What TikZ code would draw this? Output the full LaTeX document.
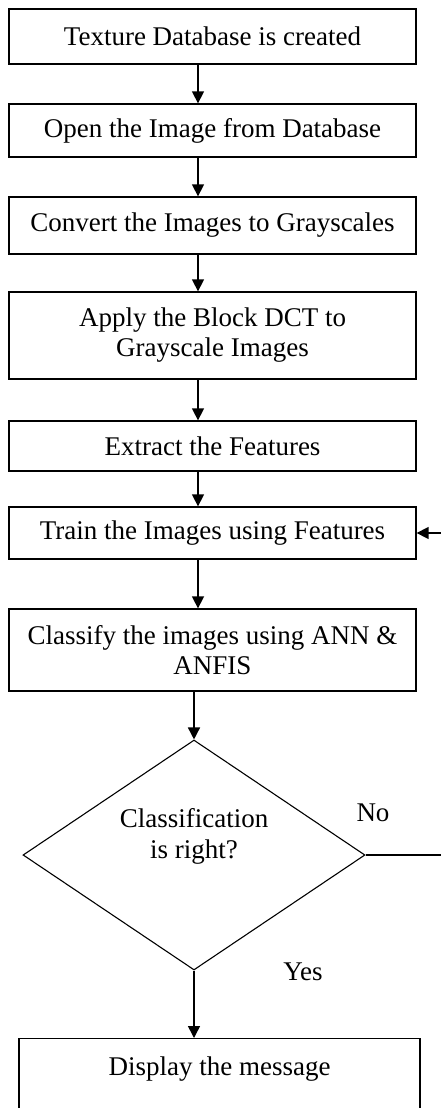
\documentclass[tikz,border=0pt]{standalone}
\usepackage{fontspec}
\setmainfont{Liberation Serif}
\usetikzlibrary{arrows.meta,shapes.geometric}

\begin{document}
\begin{tikzpicture}[x=1pt,y=-1pt,
        stepbox/.style={draw, line width=1.3pt, minimum width=407pt, inner sep=0pt,
            align=center, font=\fontsize{27}{30}\selectfont},
        decision/.style={draw, diamond, line width=1.1pt, minimum width=342pt,
            minimum height=230pt, inner sep=0pt},
        flow/.style={line width=1.5pt, -{Triangle[length=12pt,width=12pt]}},
        tag/.style={font=\fontsize{27}{31}\selectfont, inner sep=0pt}]
    \useasboundingbox (0,0) rectangle (441,1108);
    \clip (0,0) rectangle (441,1108);

    % boxes of the flow
    \node[stepbox, minimum height=55pt] (texdb) at (212.5,36.5) {Texture Database is created};
    \node[stepbox, minimum height=53pt] (openimg) at (212.5,130.5) {Open the Image from Database};
    \node[stepbox, minimum height=57pt] (gray) at (212.5,225.5) {Convert the Images to Grayscales};
    \node[stepbox, minimum height=87pt] (dct) at (212.5,335.5) {Apply the Block DCT to\\Grayscale Images};
    \node[stepbox, minimum height=50pt] (feat) at (212.5,446) {Extract the Features};
    \node[stepbox, minimum height=52pt] (train) at (212.5,533) {Train the Images using Features};
    \node[stepbox, minimum height=82pt] (classify) at (212.5,650) {Classify the images using ANN \&\\ANFIS};
    \node[decision] (check) at (194,855) {};
    \node[tag, align=center] (checktxt) at (194,836) {Classification\\is right?};
    \node[stepbox, anchor=north, minimum width=401pt, text height=37pt, text depth=45pt] (msg) at (219.5,1038) {Display the message};

    \node[tag] (no) at (373,813) {No};
    \node[tag] (yes) at (303,972) {Yes};

    % arrows
    \coordinate (ax) at (198,0);
    \coordinate (back) at (442,0);
    \draw[flow] (texdb.south -| ax) -- (openimg.north -| ax);
    \draw[flow] (openimg.south -| ax) -- (gray.north -| ax);
    \draw[flow] (gray.south -| ax) -- (dct.north -| ax);
    \draw[flow] (dct.south -| ax) -- (feat.north -| ax);
    \draw[flow] (feat.south -| ax) -- (train.north -| ax);
    \draw[flow] (train.south -| ax) -- (classify.north -| ax);
    \draw[flow] (classify.south -| check.north) -- (check.north);
    \draw[flow] (check.south) -- (msg.north -| check.south);
    \draw[flow] (check.east) -- (check.east -| back) -- (train.east -| back) -- (train.east);
\end{tikzpicture}
\end{document}
